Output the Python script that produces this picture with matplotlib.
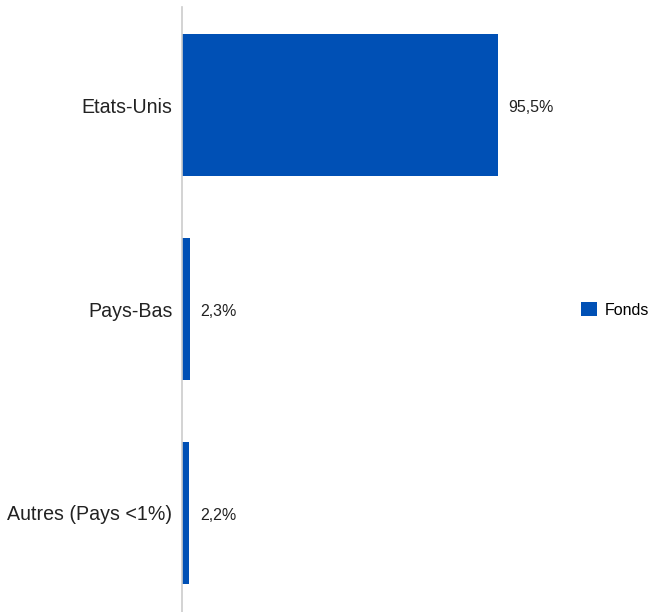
import matplotlib
matplotlib.use("Agg")
import matplotlib.pyplot as plt
from matplotlib.patches import Patch

plt.rcParams["font.family"] = ["Liberation Sans", "DejaVu Sans"]

# Répartition géographique du fonds (%)
pays = ["Etats-Unis", "Pays-Bas", "Autres (Pays <1%)"]
poids = [95.5, 2.3, 2.2]
serie = "Fonds"

BLEU = "#0050b5"

fig = plt.figure(figsize=(6.51, 6.12), dpi=100)
ax = fig.add_axes([182 / 651, -3 / 612, 380 / 651, 1.0])

y = list(range(len(pays)))
bars = ax.barh(y, poids, height=0.7, color=BLEU, zorder=2)

# étiquettes de valeur à droite de chaque barre
for b, v in zip(bars, poids):
    ax.text(b.get_width() + 3.3, b.get_y() + b.get_height() / 2 + 0.01,
            f"{v:.1f}%".replace(".", ","), va="center", ha="left",
            fontsize=11.5, color="#222222")

ax.set_xlim(0, 115)
ax.set_ylim(len(pays) - 0.5, -0.5)
ax.set_yticks(y)
ax.set_yticklabels(pays, fontsize=14.1, color="#222222")
ax.tick_params(axis="y", length=0, pad=7)
ax.set_xticks([])

for s in ["top", "right", "bottom"]:
    ax.spines[s].set_visible(False)
ax.spines["left"].set_color("#cccccc")
ax.spines["left"].set_linewidth(1.2)
ax.spines["left"].set_bounds(len(pays) - 0.5, -0.48)

handles = [Patch(facecolor=BLEU, edgecolor="none", label=serie)]
fig.legend(handles=handles, loc="center left", bbox_to_anchor=(579 / 651, 1 - 310 / 612),
           frameon=False, fontsize=11.5, handlelength=1.0, handleheight=1.0,
           handletextpad=0.5, borderpad=0.1, borderaxespad=0.0)

fig.savefig("out.png", dpi=100)
